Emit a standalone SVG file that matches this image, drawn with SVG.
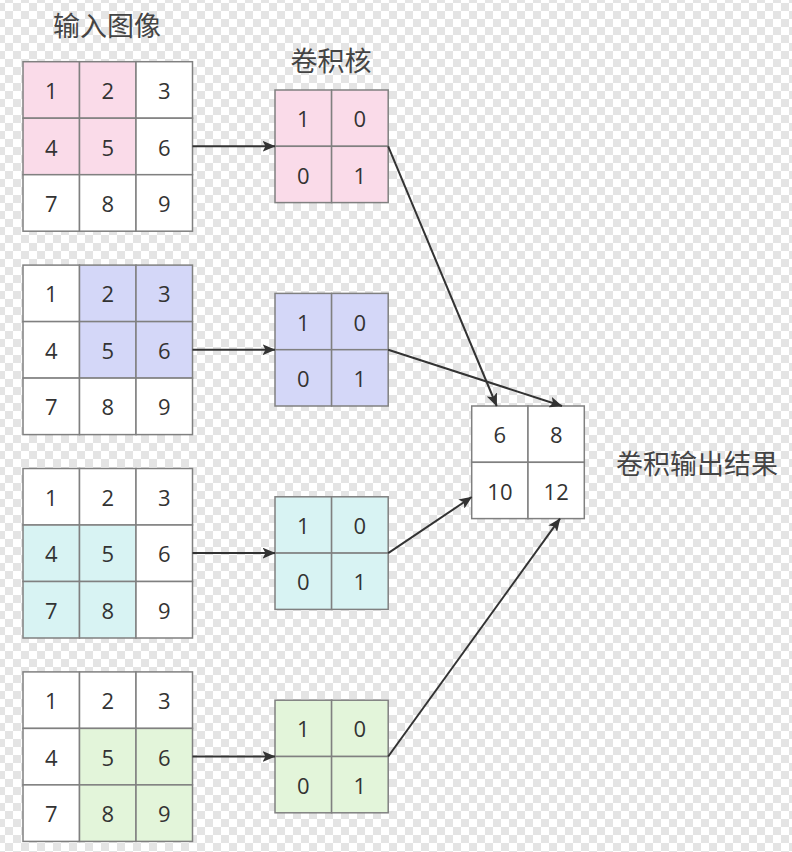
<svg xmlns="http://www.w3.org/2000/svg" width="792" height="852" viewBox="0 0 792 852">
<defs>
<pattern id="checker" x="-3" y="-5" width="16" height="16" patternUnits="userSpaceOnUse">
<rect width="16" height="16" fill="#ffffff"/>
<rect x="8" y="0" width="8" height="8" fill="#e4e4e4"/>
<rect x="0" y="8" width="8" height="8" fill="#e4e4e4"/>
</pattern>
<marker id="arr" viewBox="0 0 13 11" refX="12.5" refY="5.5" markerWidth="13" markerHeight="11" markerUnits="userSpaceOnUse" orient="auto">
<path d="M0,0 L13,5.5 L0,11 L3,5.5 z" fill="#333333"/>
</marker>
</defs>
<style>
.c{stroke:#808080;stroke-width:1.5}
.w{fill:#ffffff}
.p{fill:#fadbe9}
.b{fill:#d4d7f8}
.t{fill:#d8f3f3}
.g{fill:#e3f5da}
.n{font-family:"Open Sans","Noto Sans",sans-serif;font-size:22px;fill:#333333;text-anchor:middle;dominant-baseline:central}
.h{font-family:"Noto Sans CJK SC","Noto Sans",sans-serif;font-size:27px;fill:#444444;dominant-baseline:central}
.e{stroke:#333333;stroke-width:2;fill:none;marker-end:url(#arr)}
</style>
<rect width="792" height="852" fill="url(#checker)"/>

<g id="title-input"><text class="h" x="107" y="24" text-anchor="middle">输入图像</text></g>
<g id="title-kernel"><text class="h" x="331" y="59" text-anchor="middle">卷积核</text></g>
<g id="title-output"><text class="h" x="616" y="462">卷积输出结果</text></g>

<g id="input1">
<rect class="c p" x="23" y="61.7" width="56.5" height="56.5"/><rect class="c p" x="79.5" y="61.7" width="56.5" height="56.5"/><rect class="c w" x="136" y="61.7" width="56.5" height="56.5"/>
<rect class="c p" x="23" y="118.2" width="56.5" height="56.5"/><rect class="c p" x="79.5" y="118.2" width="56.5" height="56.5"/><rect class="c w" x="136" y="118.2" width="56.5" height="56.5"/>
<rect class="c w" x="23" y="174.7" width="56.5" height="56.5"/><rect class="c w" x="79.5" y="174.7" width="56.5" height="56.5"/><rect class="c w" x="136" y="174.7" width="56.5" height="56.5"/>
<text class="n" x="51.3" y="90">1</text><text class="n" x="107.8" y="90">2</text><text class="n" x="164.3" y="90">3</text>
<text class="n" x="51.3" y="146.5">4</text><text class="n" x="107.8" y="146.5">5</text><text class="n" x="164.3" y="146.5">6</text>
<text class="n" x="51.3" y="203">7</text><text class="n" x="107.8" y="203">8</text><text class="n" x="164.3" y="203">9</text>
</g>

<g id="input2">
<rect class="c w" x="23" y="265.1" width="56.5" height="56.5"/><rect class="c b" x="79.5" y="265.1" width="56.5" height="56.5"/><rect class="c b" x="136" y="265.1" width="56.5" height="56.5"/>
<rect class="c w" x="23" y="321.6" width="56.5" height="56.5"/><rect class="c b" x="79.5" y="321.6" width="56.5" height="56.5"/><rect class="c b" x="136" y="321.6" width="56.5" height="56.5"/>
<rect class="c w" x="23" y="378.1" width="56.5" height="56.5"/><rect class="c w" x="79.5" y="378.1" width="56.5" height="56.5"/><rect class="c w" x="136" y="378.1" width="56.5" height="56.5"/>
<text class="n" x="51.3" y="293.4">1</text><text class="n" x="107.8" y="293.4">2</text><text class="n" x="164.3" y="293.4">3</text>
<text class="n" x="51.3" y="349.9">4</text><text class="n" x="107.8" y="349.9">5</text><text class="n" x="164.3" y="349.9">6</text>
<text class="n" x="51.3" y="406.4">7</text><text class="n" x="107.8" y="406.4">8</text><text class="n" x="164.3" y="406.4">9</text>
</g>

<g id="input3">
<rect class="c w" x="23" y="468.5" width="56.5" height="56.5"/><rect class="c w" x="79.5" y="468.5" width="56.5" height="56.5"/><rect class="c w" x="136" y="468.5" width="56.5" height="56.5"/>
<rect class="c t" x="23" y="525" width="56.5" height="56.5"/><rect class="c t" x="79.5" y="525" width="56.5" height="56.5"/><rect class="c w" x="136" y="525" width="56.5" height="56.5"/>
<rect class="c t" x="23" y="581.5" width="56.5" height="56.5"/><rect class="c t" x="79.5" y="581.5" width="56.5" height="56.5"/><rect class="c w" x="136" y="581.5" width="56.5" height="56.5"/>
<text class="n" x="51.3" y="496.8">1</text><text class="n" x="107.8" y="496.8">2</text><text class="n" x="164.3" y="496.8">3</text>
<text class="n" x="51.3" y="553.3">4</text><text class="n" x="107.8" y="553.3">5</text><text class="n" x="164.3" y="553.3">6</text>
<text class="n" x="51.3" y="609.8">7</text><text class="n" x="107.8" y="609.8">8</text><text class="n" x="164.3" y="609.8">9</text>
</g>

<g id="input4">
<rect class="c w" x="23" y="671.9" width="56.5" height="56.5"/><rect class="c w" x="79.5" y="671.9" width="56.5" height="56.5"/><rect class="c w" x="136" y="671.9" width="56.5" height="56.5"/>
<rect class="c w" x="23" y="728.4" width="56.5" height="56.5"/><rect class="c g" x="79.5" y="728.4" width="56.5" height="56.5"/><rect class="c g" x="136" y="728.4" width="56.5" height="56.5"/>
<rect class="c w" x="23" y="784.9" width="56.5" height="56.5"/><rect class="c g" x="79.5" y="784.9" width="56.5" height="56.5"/><rect class="c g" x="136" y="784.9" width="56.5" height="56.5"/>
<text class="n" x="51.3" y="700.2">1</text><text class="n" x="107.8" y="700.2">2</text><text class="n" x="164.3" y="700.2">3</text>
<text class="n" x="51.3" y="756.7">4</text><text class="n" x="107.8" y="756.7">5</text><text class="n" x="164.3" y="756.7">6</text>
<text class="n" x="51.3" y="813.2">7</text><text class="n" x="107.8" y="813.2">8</text><text class="n" x="164.3" y="813.2">9</text>
</g>

<g id="kernel1">
<rect class="c p" x="275" y="90" width="56.6" height="56.3"/><rect class="c p" x="331.6" y="90" width="56.6" height="56.3"/>
<rect class="c p" x="275" y="146.3" width="56.6" height="56.3"/><rect class="c p" x="331.6" y="146.3" width="56.6" height="56.3"/>
<text class="n" x="303.3" y="118.2">1</text><text class="n" x="359.9" y="118.2">0</text>
<text class="n" x="303.3" y="174.5">0</text><text class="n" x="359.9" y="174.5">1</text>
</g>
<g id="kernel2">
<rect class="c b" x="275" y="293.4" width="56.6" height="56.3"/><rect class="c b" x="331.6" y="293.4" width="56.6" height="56.3"/>
<rect class="c b" x="275" y="349.7" width="56.6" height="56.3"/><rect class="c b" x="331.6" y="349.7" width="56.6" height="56.3"/>
<text class="n" x="303.3" y="321.6">1</text><text class="n" x="359.9" y="321.6">0</text>
<text class="n" x="303.3" y="377.9">0</text><text class="n" x="359.9" y="377.9">1</text>
</g>
<g id="kernel3">
<rect class="c t" x="275" y="496.8" width="56.6" height="56.3"/><rect class="c t" x="331.6" y="496.8" width="56.6" height="56.3"/>
<rect class="c t" x="275" y="553.1" width="56.6" height="56.3"/><rect class="c t" x="331.6" y="553.1" width="56.6" height="56.3"/>
<text class="n" x="303.3" y="525">1</text><text class="n" x="359.9" y="525">0</text>
<text class="n" x="303.3" y="581.3">0</text><text class="n" x="359.9" y="581.3">1</text>
</g>
<g id="kernel4">
<rect class="c g" x="275" y="700.2" width="56.6" height="56.3"/><rect class="c g" x="331.6" y="700.2" width="56.6" height="56.3"/>
<rect class="c g" x="275" y="756.5" width="56.6" height="56.3"/><rect class="c g" x="331.6" y="756.5" width="56.6" height="56.3"/>
<text class="n" x="303.3" y="728.4">1</text><text class="n" x="359.9" y="728.4">0</text>
<text class="n" x="303.3" y="784.7">0</text><text class="n" x="359.9" y="784.7">1</text>
</g>

<g id="output">
<rect class="c w" x="471.7" y="406" width="56.3" height="56.3"/><rect class="c w" x="528" y="406" width="56.3" height="56.3"/>
<rect class="c w" x="471.7" y="462.3" width="56.3" height="56.3"/><rect class="c w" x="528" y="462.3" width="56.3" height="56.3"/>
<text class="n" x="499.9" y="434.2">6</text><text class="n" x="556.2" y="434.2">8</text>
<text class="n" x="499.9" y="490.5">10</text><text class="n" x="556.2" y="490.5">12</text>
</g>

<g id="connectors">
<line class="e" x1="192.5" y1="146.3" x2="275" y2="146.3"/>
<line class="e" x1="192.5" y1="349.7" x2="275" y2="349.7"/>
<line class="e" x1="192.5" y1="553.1" x2="275" y2="553.1"/>
<line class="e" x1="192.5" y1="756.5" x2="275" y2="756.5"/>
<line class="e" x1="388.2" y1="146.3" x2="496.7" y2="406"/>
<line class="e" x1="388.2" y1="349.7" x2="562" y2="406"/>
<line class="e" x1="388.2" y1="553.1" x2="471.7" y2="497"/>
<line class="e" x1="388.2" y1="756.5" x2="560" y2="518.6"/>
</g>
</svg>
